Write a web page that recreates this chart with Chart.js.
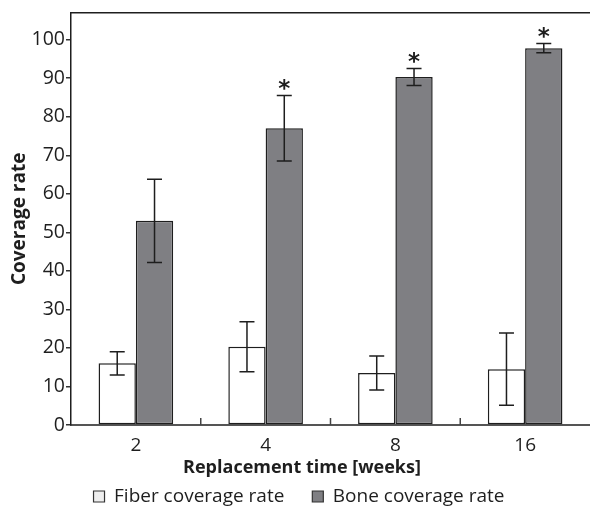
<!DOCTYPE html>
<html>
<head>
<meta charset="utf-8">
<script src="https://cdn.jsdelivr.net/npm/chart.js@4.4.1/dist/chart.umd.min.js"></script>
<style>
  html, body { margin: 0; padding: 0; background: #fff; }
  #wrap { width: 590px; height: 506px; }
</style>
</head>
<body>
<div id="wrap"><canvas id="chart" width="590" height="506"></canvas></div>
<script>
// values
const weeks = ['2', '4', '8', '16'];
const fiberRate = [16, 20.3, 13.5, 14.5];
const fiberErr = [3, 6.5, 4.4, 9.4];
const boneRate = [53, 77, 90.3, 97.8];
const boneErr = [10.8, 8.5, 2.2, 1.2];
const boneStars = ['', '*', '*', '*'];
const yTicks = [0, 10, 20, 30, 40, 50, 60, 70, 80, 90, 100];

const FONT = '"Open Sans"';
const INK = '#1e1e1e';

// error bars, asterisks, frame line, inner x ticks, x title
const extras = {
  id: 'extras',
  afterDatasetsDraw(chart) {
    const ctx = chart.ctx;
    const y = chart.scales.y;
    const x = chart.scales.x;
    const area = chart.chartArea;
    const errs = [fiberErr, boneErr];
    const vals = [fiberRate, boneRate];

    ctx.save();
    ctx.strokeStyle = INK;
    ctx.lineWidth = 1.5;
    errs.forEach((err, d) => {
      chart.getDatasetMeta(d).data.forEach((bar, i) => {
        const top = y.getPixelForValue(vals[d][i] + err[i]);
        const bot = y.getPixelForValue(vals[d][i] - err[i]);
        ctx.beginPath();
        ctx.moveTo(bar.x, top); ctx.lineTo(bar.x, bot);
        ctx.moveTo(bar.x - 7.5, top); ctx.lineTo(bar.x + 7.5, top);
        ctx.moveTo(bar.x - 7.5, bot); ctx.lineTo(bar.x + 7.5, bot);
        ctx.stroke();
      });
    });

    // significance marks
    ctx.fillStyle = INK;
    ctx.font = 'bold 23px "DejaVu Sans"';
    ctx.textAlign = 'center';
    ctx.textBaseline = 'alphabetic';
    chart.getDatasetMeta(1).data.forEach((bar, i) => {
      if (!boneStars[i]) return;
      const top = y.getPixelForValue(boneRate[i] + boneErr[i]);
      ctx.fillText(boneStars[i], bar.x, top - 13 + 0.58 * 23);
    });

    // top frame
    ctx.beginPath();
    ctx.lineWidth = 1.5;
    ctx.moveTo(area.left, area.top);
    ctx.lineTo(area.right, area.top);
    ctx.stroke();

    // inward ticks between the groups
    ctx.strokeStyle = '#444';
    ctx.lineWidth = 1.5;
    ctx.beginPath();
    for (let i = 1; i < weeks.length; i++) {
      const px = (x.getPixelForValue(i - 1) + x.getPixelForValue(i)) / 2;
      ctx.moveTo(px, area.bottom);
      ctx.lineTo(px, area.bottom - 7);
    }
    ctx.stroke();

    // x axis title, centred like the legend
    ctx.fillStyle = INK;
    ctx.font = 'bold 18px ' + FONT;
    ctx.textBaseline = 'middle';
    ctx.fillText('Replacement time [weeks]', (chart.legend.left + chart.legend.right) / 2 + 3, 468);
    ctx.restore();
  }
};

new Chart(document.getElementById('chart'), {
  type: 'bar',
  data: {
    labels: weeks,
    datasets: [
      {
        label: 'Fiber coverage rate',
        data: fiberRate,
        backgroundColor: '#ffffff',
        borderColor: INK,
        borderWidth: 1.5,
        borderSkipped: false
      },
      {
        label: 'Bone coverage rate',
        data: boneRate,
        backgroundColor: '#7f7f83',
        borderColor: INK,
        borderWidth: 1.5,
        borderSkipped: false
      }
    ]
  },
  options: {
    responsive: false,
    animation: false,
    events: [],
    layout: { padding: { top: 12, left: 8, right: 0, bottom: -10 } },
    datasets: { bar: { categoryPercentage: 0.575, barPercentage: 1 } },
    plugins: {
      tooltip: { enabled: false },
      legend: {
        position: 'bottom',
        labels: {
          font: { family: FONT, size: 19 },
          color: INK,
          boxWidth: 11,
          boxHeight: 11,
          padding: 28,
          generateLabels(chart) {
            return chart.data.datasets.map((ds, i) => ({
              text: ds.label,
              fillStyle: i === 0 ? '#eeeeee' : '#7f7f83',
              strokeStyle: '#333',
              lineWidth: 1.2,
              datasetIndex: i,
              fontColor: INK
            }));
          }
        }
      }
    },
    scales: {
      x: {
        grid: { display: false, drawTicks: false },
        border: { display: true, color: '#555', width: 2 },
        ticks: { font: { family: FONT, size: 19 }, color: INK, padding: 9 },
        afterFit(s) { s.height = 34; }
      },
      y: {
        min: 0,
        max: 107,
        afterBuildTicks(s) { s.ticks = yTicks.map(v => ({ value: v })); },
        grid: { drawOnChartArea: false, drawTicks: true, tickLength: 5, color: '#333', lineWidth: 1.5 },
        border: { display: true, color: INK, width: 1.5 },
        ticks: { font: { family: FONT, size: 19.5 }, color: INK, padding: 1 },
        title: {
          display: true,
          text: 'Coverage rate',
          font: { family: FONT, size: 19, weight: 'bold' },
          color: INK,
          padding: { top: 0, bottom: 0 }
        },
        afterFit(s) { s.width = 63; }
      }
    }
  },
  plugins: [extras]
});
</script>
</body>
</html>
